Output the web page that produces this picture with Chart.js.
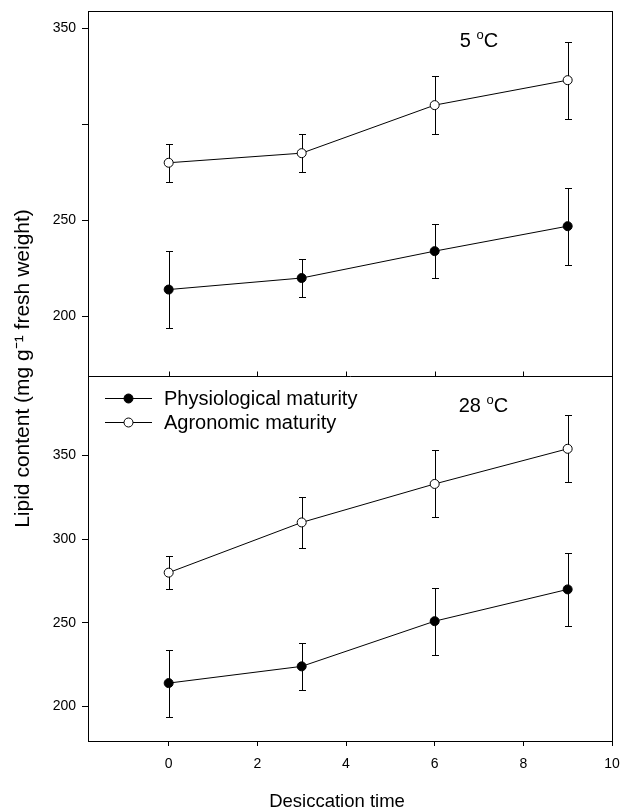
<!DOCTYPE html>
<html>
<head>
<meta charset="utf-8">
<script src="https://cdn.jsdelivr.net/npm/chart.js@4"></script>
<style>
  html, body { margin: 0; padding: 0; background: #fff; }
  #wrap { width: 623px; height: 809px; }
</style>
</head>
<body>
<div id="wrap"><canvas id="c" width="623" height="809"></canvas></div>
<script>
// ── Data ─────────────────────────────────────────────────────────────────────
const desiccationTime = [0, 3, 6, 9];

const cold_phys = [214, 220, 234, 247];
const cold_physErr = [20, 10, 14, 20];
const cold_agro = [280, 285, 310, 323];
const cold_agroErr = [10, 10, 15, 20];

const warm_phys = [214, 224, 251, 270];
const warm_physErr = [20, 14, 20, 22];
const warm_agro = [280, 310, 333, 354];
const warm_agroErr = [10, 15, 20, 20];

const seriesLabels = ['Physiological maturity', 'Agronomic maturity'];
const panelLabels = ['5', '28'];
const xTicks = [0, 2, 4, 6, 8, 10];
const yTicksTop = [200, 250, 300, 350];
const yLabelsTop = ['200', '250', '', '350'];
const yTicksBottom = [200, 250, 300, 350];

const FONT = '"Liberation Sans", Arial, sans-serif';
const INK = '#000';

function pts(values) {
  return desiccationTime.map((t, i) => ({ x: t, y: values[i] }));
}

function series(label, values, errs, axis, filled) {
  return {
    label,
    data: pts(values),
    errors: errs,
    yAxisID: axis,
    borderColor: INK,
    borderWidth: 1,
    pointRadius: 4.5,
    pointHoverRadius: 4.5,
    pointBorderWidth: 1,
    pointBorderColor: INK,
    pointBackgroundColor: filled ? INK : '#fff',
    fill: false,
    tension: 0,
  };
}

// ── Plugins ──────────────────────────────────────────────────────────────────

// vertical error bars with small caps
const errorBars = {
  id: 'errorBars',
  beforeDatasetsDraw(chart) {
    const { ctx } = chart;
    ctx.save();
    ctx.strokeStyle = INK;
    ctx.lineWidth = 1;
    chart.data.datasets.forEach(ds => {
      const ys = chart.scales[ds.yAxisID];
      const xs = chart.scales.x;
      ds.data.forEach((p, i) => {
        const e = ds.errors[i];
        const px = Math.round(xs.getPixelForValue(p.x)) + 0.5;
        const y1 = Math.round(ys.getPixelForValue(p.y + e)) + 0.5;
        const y2 = Math.round(ys.getPixelForValue(p.y - e)) + 0.5;
        ctx.beginPath();
        ctx.moveTo(px, y1); ctx.lineTo(px, y2);
        ctx.moveTo(px - 3.5, y1); ctx.lineTo(px + 3.5, y1);
        ctx.moveTo(px - 3.5, y2); ctx.lineTo(px + 3.5, y2);
        ctx.stroke();
      });
    });
    ctx.restore();
  }
};

// panel frames, inner ticks on the divider, panel labels, legend, axis titles
const decorations = {
  id: 'decorations',
  afterDraw(chart) {
    const { ctx, chartArea } = chart;
    const xs = chart.scales.x;
    const top = chart.scales.yTop;
    const bot = chart.scales.yBot;
    ctx.save();
    ctx.strokeStyle = INK;
    ctx.lineWidth = 1;

    const L = Math.round(chartArea.left) + 0.5;
    const R = Math.round(chartArea.right) + 0.5;
    const T = Math.round(chartArea.top) + 0.5;
    const B = Math.round(chartArea.bottom) + 0.5;
    const D = Math.round(bot.top) + 0.5;
    ctx.strokeRect(L, T, R - L, B - T);
    ctx.beginPath();
    ctx.moveTo(L, D); ctx.lineTo(R, D);
    ctx.stroke();

    // ticks on the bottom edge of the upper panel, pointing inward
    xTicks.forEach(v => {
      const px = Math.round(xs.getPixelForValue(v)) + 0.5;
      ctx.beginPath();
      ctx.moveTo(px, D);
      ctx.lineTo(px, D - 5);
      ctx.stroke();
    });

    // temperature labels with a raised small "o"
    ctx.fillStyle = INK;
    ctx.textBaseline = 'alphabetic';
    const tempLabel = (num, s, xv, yv) => {
      const big = '20px ' + FONT, small = '13px ' + FONT;
      ctx.font = big;
      const w1 = ctx.measureText(num + ' ').width;
      const wC = ctx.measureText('C').width;
      ctx.font = small;
      const wo = ctx.measureText('o').width;
      const total = w1 + wo + wC;
      let x = xs.getPixelForValue(xv) - total / 2;
      const y = s.getPixelForValue(yv) + 7;
      ctx.font = big; ctx.fillText(num + ' ', x, y); x += w1;
      ctx.font = small; ctx.fillText('o', x, y - 8); x += wo;
      ctx.font = big; ctx.fillText('C', x, y);
    };
    tempLabel(panelLabels[0], top, 7.0, 344);
    tempLabel(panelLabels[1], bot, 7.1, 380);

    // legend in upper-left of lower panel
    const lx = chartArea.left + 17;
    [0, 1].forEach(i => {
      const ds = chart.data.datasets[i + 2];
      const ly = Math.round(bot.top + 22 + i * 24) + 0.5;
      ctx.beginPath();
      ctx.moveTo(lx, ly);
      ctx.lineTo(lx + 47, ly);
      ctx.stroke();
      ctx.beginPath();
      ctx.arc(lx + 23.5, ly, 4.5, 0, Math.PI * 2);
      ctx.fillStyle = ds.pointBackgroundColor;
      ctx.fill();
      ctx.stroke();
      ctx.fillStyle = INK;
      ctx.font = '20px ' + FONT;
      ctx.textBaseline = 'middle';
      ctx.fillText(ds.label, lx + 59, ly + 1);
    });

    // x title
    ctx.textAlign = 'center';
    ctx.textBaseline = 'alphabetic';
    ctx.font = '18.5px ' + FONT;
    ctx.fillText('Desiccation time', (chartArea.left + chartArea.right) / 2 - 13, 807);

    // y title spanning both panels
    ctx.save();
    ctx.translate(29, (chartArea.top + chartArea.bottom) / 2 - 7.5);
    ctx.rotate(-Math.PI / 2);
    ctx.textAlign = 'center';
    ctx.textBaseline = 'alphabetic';
    ctx.font = '21px ' + FONT;
    ctx.fillText('Lipid content (mg g\u207B\u00B9 fresh weight)', 0, 0);
    ctx.restore();

    ctx.restore();
  }
};

// ── Chart ────────────────────────────────────────────────────────────────────

Chart.defaults.font.family = FONT;
Chart.defaults.color = INK;

const yGrid = { display: true, drawOnChartArea: false, drawTicks: true, tickLength: 6, color: INK };
const fitY = s => { s.width = 40; s.paddingTop = 0; s.paddingBottom = 0; };

new Chart(document.getElementById('c'), {
  type: 'line',
  data: {
    datasets: [
      series(seriesLabels[0], cold_phys, cold_physErr, 'yTop', true),
      series(seriesLabels[1], cold_agro, cold_agroErr, 'yTop', false),
      series(seriesLabels[0], warm_phys, warm_physErr, 'yBot', true),
      series(seriesLabels[1], warm_agro, warm_agroErr, 'yBot', false),
    ],
  },
  options: {
    responsive: false,
    animation: false,
    events: [],
    layout: { padding: { left: 48, right: 11, top: 11, bottom: 0 } },
    plugins: { legend: { display: false }, tooltip: { enabled: false } },
    scales: {
      x: {
        type: 'linear',
        position: 'bottom',
        min: -1.82,
        max: 10,
        afterFit: s => { s.height = 68; s.paddingLeft = 0; s.paddingRight = 0; },
        afterBuildTicks: s => { s.ticks = xTicks.map(v => ({ value: v })); },
        grid: { display: true, drawOnChartArea: false, drawTicks: true, tickLength: 5, color: INK },
        border: { display: false },
        ticks: { font: { size: 14 }, padding: 10, color: INK, maxRotation: 0 },
        title: { display: false },
      },
      // the lower panel is declared first: Chart.js stacks the first axis at the bottom
      yBot: {
        type: 'linear',
        position: 'left',
        stack: 'panels',
        stackWeight: 1,
        min: 179.4,
        max: 397.5,
        afterFit: fitY,
        afterBuildTicks: s => { s.ticks = yTicksBottom.map(v => ({ value: v })); },
        grid: yGrid,
        border: { display: false },
        ticks: { font: { size: 14 }, padding: 6, color: INK },
      },
      yTop: {
        type: 'linear',
        position: 'left',
        stack: 'panels',
        stackWeight: 1,
        min: 169,
        max: 359,
        afterFit: fitY,
        afterBuildTicks: s => { s.ticks = yTicksTop.map(v => ({ value: v })); },
        grid: yGrid,
        border: { display: false },
        ticks: {
          font: { size: 14 }, padding: 6, color: INK,
          callback: (v) => yLabelsTop[yTicksTop.indexOf(v)],
        },
      },
    },
  },
  plugins: [errorBars, decorations],
});
</script>
</body>
</html>
